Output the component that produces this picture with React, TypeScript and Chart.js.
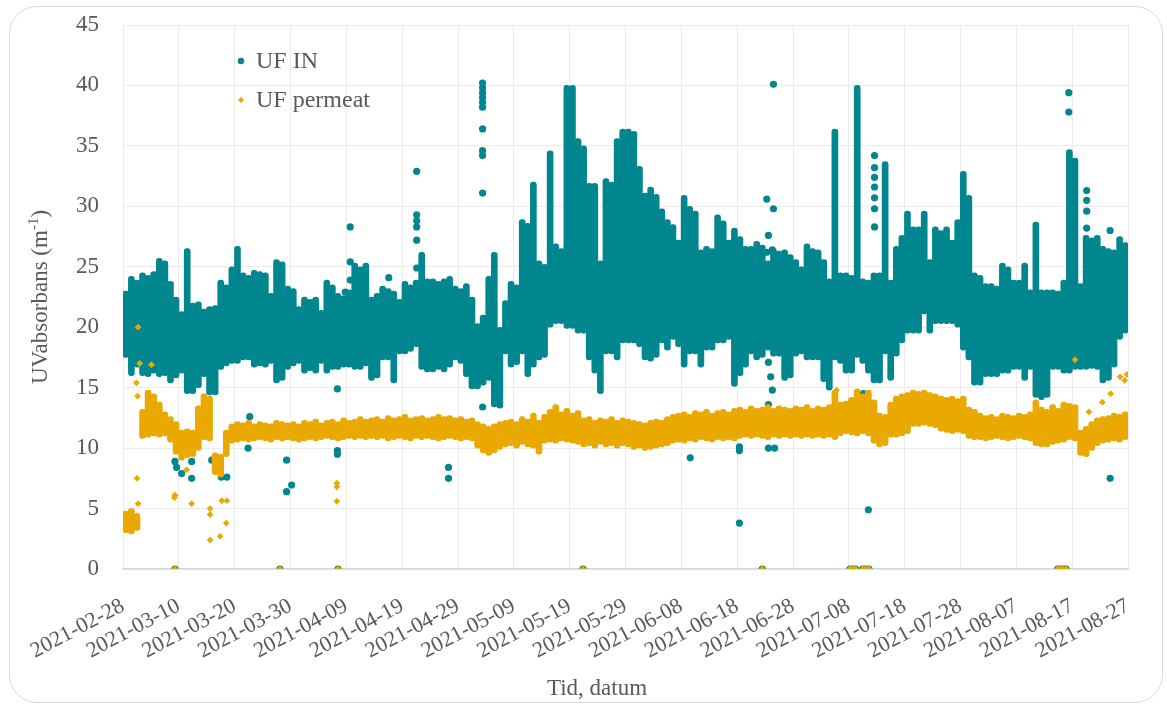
import { useEffect, useRef } from "react";
import { Chart, registerables } from "chart.js";

Chart.register(...registerables);

// x axis: days counted from 2021-02-28, one label every ten days
const dateTicks = [
  "2021-02-28", "2021-03-10", "2021-03-20", "2021-03-30", "2021-04-09",
  "2021-04-19", "2021-04-29", "2021-05-09", "2021-05-19", "2021-05-29",
  "2021-06-08", "2021-06-18", "2021-06-28", "2021-07-08", "2021-07-18",
  "2021-07-28", "2021-08-07", "2021-08-17", "2021-08-27",
];

// UF IN: daily highest and lowest UV absorbance (m-1), day 0 = 2021-02-28
const ufInHigh = [
  23.0, 24.2, 23.9, 24.5, 24.3, 24.6, 25.7, 25.5, 23.8, 22.5,
  21.3, 26.5, 22.0, 22.1, 21.5, 21.7, 21.8, 23.9, 23.5, 25.0,
  26.7, 24.5, 24.3, 24.7, 24.6, 24.5, 22.8, 25.6, 25.4, 23.4,
  23.2, 21.7, 22.5, 22.3, 22.5, 21.4, 23.9, 23.5, 22.8, 22.6,
  23.1, 25.3, 25.0, 25.3, 22.5, 22.8, 23.4, 23.2, 23.0, 22.3,
  23.8, 23.5, 23.9, 26.2, 24.0, 24.0, 23.8, 24.0, 24.2, 23.4,
  23.2, 23.6, 22.5, 20.3, 21.0, 24.2, 26.2, 20.0, 22.2, 23.8,
  23.5, 28.9, 28.6, 32.0, 25.5, 25.2, 34.6, 26.9, 26.5, 40.0,
  40.0, 35.6, 35.0, 31.9, 31.9, 25.5, 32.3, 32.0, 35.6, 36.4,
  36.4, 36.2, 33.3, 31.1, 31.6, 31.0, 29.8, 28.9, 28.5, 27.2,
  30.9, 30.0, 29.6, 26.4, 26.7, 26.5, 29.3, 28.8, 27.2, 28.2,
  27.5, 26.7, 26.7, 27.1, 26.8, 25.5, 26.5, 26.3, 26.4, 26.0,
  25.6, 25.0, 26.9, 26.5, 26.4, 25.6, 24.0, 36.4, 24.5, 24.5,
  24.3, 40.0, 24.0, 23.9, 24.5, 24.5, 33.7, 23.9, 26.7, 27.6,
  29.6, 28.3, 28.3, 29.6, 25.6, 28.3, 28.0, 28.3, 27.2, 28.9,
  32.9, 30.9, 24.5, 24.3, 23.6, 23.6, 23.4, 25.3, 25.0, 23.9,
  23.9, 25.3, 23.1, 28.7, 23.1, 23.1, 23.1, 23.0, 23.9, 34.7,
  34.0, 23.6, 27.6, 27.4, 27.6, 26.7, 26.5, 26.4, 27.5, 27.0,
];
const ufInLow = [
  17.5, 16.0, 16.7, 16.0, 15.9, 16.2, 15.9, 16.0, 15.4, 15.8,
  16.2, 14.5, 14.5, 15.0, 15.9, 14.4, 14.4, 16.5, 16.8, 17.0,
  17.0, 17.3, 17.3, 16.7, 16.8, 16.7, 17.0, 15.4, 15.6, 16.5,
  16.8, 17.0, 16.2, 16.4, 16.2, 17.0, 16.2, 16.5, 16.5, 16.7,
  16.7, 16.5, 16.5, 16.8, 15.6, 15.8, 17.3, 17.3, 15.4, 17.8,
  17.8, 18.0, 18.4, 16.5, 16.3, 16.3, 16.5, 16.3, 16.7, 17.3,
  17.0, 15.9, 14.9, 14.9, 15.2, 15.6, 13.4, 13.3, 17.8, 16.7,
  16.9, 17.8, 15.9, 16.7, 17.3, 17.5, 20.0, 20.3, 20.3, 19.9,
  19.9, 19.5, 19.5, 17.3, 16.2, 14.5, 17.8, 17.8, 17.3, 18.7,
  18.7, 18.7, 18.4, 17.3, 17.2, 17.5, 18.7, 18.1, 19.0, 18.4,
  16.7, 17.8, 17.8, 16.7, 18.1, 18.1, 18.7, 18.7, 19.0, 15.1,
  16.0, 16.7, 17.8, 17.3, 17.5, 18.1, 17.6, 17.6, 15.6, 15.8,
  17.6, 17.8, 17.3, 17.3, 17.3, 15.5, 14.8, 17.3, 17.0, 16.2,
  16.2, 17.5, 17.0, 16.2, 15.4, 15.4, 17.8, 15.6, 17.6, 18.7,
  19.5, 19.5, 19.5, 21.1, 19.5, 20.3, 20.3, 20.3, 20.3, 20.0,
  18.1, 17.3, 15.2, 15.2, 15.9, 15.9, 15.9, 16.2, 16.2, 16.5,
  16.5, 15.6, 16.5, 14.2, 14.0, 14.2, 16.5, 16.5, 16.2, 16.2,
  16.5, 16.5, 16.5, 16.6, 16.5, 15.4, 15.6, 16.7, 19.0, 19.5,
];

// UF permeat: daily highest and lowest UV absorbance (m-1)
const permHigh = [
  4.8, 5.0, 4.6, 13.2, 14.8, 14.5, 13.8, 13.0, 12.6, 12.2,
  11.5, 11.6, 11.5, 13.5, 14.5, 14.3, 9.6, 9.5, 11.5, 12.0,
  12.2, 12.1, 12.3, 12.0, 12.2, 12.1, 12.0, 12.3, 12.2, 12.1,
  12.2, 12.0, 12.3, 12.2, 12.4, 12.1, 12.3, 12.4, 12.2, 12.5,
  12.3, 12.4, 12.6, 12.4, 12.5, 12.6, 12.4, 12.7, 12.5, 12.6,
  12.8, 12.5, 12.6, 12.7, 12.5, 12.6, 12.8, 12.6, 12.7, 12.5,
  12.6, 12.4, 12.5, 12.2, 12.0, 11.8, 12.0, 12.2, 12.3, 12.4,
  12.2, 12.6, 12.4, 12.9, 12.3, 12.8, 13.2, 13.6, 13.0, 13.3,
  12.9, 13.1, 12.5, 12.6, 12.3, 12.5, 12.4, 12.6, 12.3, 12.5,
  12.4, 12.3, 12.2, 12.1, 12.3, 12.4, 12.3, 12.6, 12.8, 12.9,
  13.0, 12.8, 13.1, 13.0, 13.2, 12.9, 13.1, 13.2, 13.0, 13.3,
  13.4, 13.2, 13.5, 13.3, 13.4, 13.6, 13.3, 13.5, 13.4, 13.3,
  13.5, 13.4, 13.6, 13.3, 13.5, 13.4, 13.6, 14.8, 13.8, 13.9,
  14.2, 14.9, 14.5, 14.8, 14.0, 12.9, 12.8, 13.8, 14.3, 14.5,
  14.6, 14.8, 14.7, 14.8, 14.6, 14.5, 14.3, 14.2, 14.3, 14.1,
  14.3, 13.4, 13.2, 12.9, 12.7, 12.8, 12.6, 12.9, 12.8, 12.7,
  12.9, 12.8, 13.0, 14.0, 13.4, 13.2, 13.6, 13.3, 13.8, 13.7,
  13.6, 11.5, 11.8, 12.2, 12.5, 12.6, 12.7, 12.9, 12.8, 13.0,
];
const permLow = [
  3.0, 2.9, 3.2, 10.8, 10.9, 11.0, 10.9, 11.0, 10.5, 9.5,
  9.0, 9.2, 9.3, 9.8, 10.7, 10.6, 7.8, 7.6, 9.3, 10.4,
  10.5, 10.6, 10.5, 10.6, 10.7, 10.6, 10.5, 10.7, 10.6, 10.7,
  10.6, 10.5, 10.6, 10.7, 10.6, 10.7, 10.8, 10.7, 10.6, 10.7,
  10.8, 10.7, 10.8, 10.7, 10.8, 10.7, 10.8, 10.6, 10.7, 10.8,
  10.7, 10.6, 10.8, 10.7, 10.8, 10.7, 10.6, 10.7, 10.8, 10.7,
  10.6, 10.7, 10.6, 10.0, 9.6, 9.4, 9.6, 9.9, 10.1, 10.2,
  10.0, 10.3, 10.1, 10.0, 9.5, 10.4, 10.5, 10.4, 10.6, 10.5,
  10.4, 10.3, 10.1, 10.2, 10.0, 10.3, 10.1, 10.2, 10.0, 10.2,
  10.1, 9.9, 10.0, 9.8, 9.9, 10.0, 10.1, 10.2, 10.4, 10.5,
  10.4, 10.6, 10.5, 10.7, 10.6, 10.5, 10.7, 10.6, 10.7, 10.6,
  10.8, 10.9, 10.8, 10.9, 10.8, 10.7, 10.9, 10.8, 10.9, 10.8,
  10.9, 10.8, 10.9, 10.8, 10.9, 10.8, 10.9, 10.7, 11.0, 11.2,
  11.1, 11.0, 11.2, 11.0, 10.4, 10.1, 10.2, 10.9, 10.9, 11.0,
  11.2, 11.8, 11.8, 11.9, 11.8, 11.7, 11.4, 11.3, 11.2, 11.3,
  11.2, 10.8, 10.7, 10.7, 10.6, 10.7, 10.8, 10.7, 10.6, 10.7,
  10.8, 10.7, 10.6, 10.2, 10.1, 10.1, 10.3, 10.4, 10.5, 10.7,
  10.6, 9.4, 9.3, 9.8, 10.2, 10.4, 10.5, 10.6, 10.5, 10.7,
];

// single UF IN readings away from the daily band: [day, value]
const ufInSingles: [number, number][] = [
  [9.3, 8.9], [9.6, 8.4], [10.5, 7.9], [12.3, 7.5], [12.3, 8.9], [15.9, 9.0],
  [17.6, 7.6], [18.6, 7.6], [22.7, 12.6], [22.4, 10.0], [29.3, 9.0], [29.3, 6.4],
  [30.2, 6.95], [38.4, 14.9], [38.4, 9.5], [38.4, 9.8], [40.7, 28.3], [40.7, 25.4],
  [40.7, 23.9], [39.8, 22.9], [47.6, 24.1], [52.6, 32.9], [52.6, 29.3], [52.6, 28.8],
  [52.6, 28.3], [52.6, 27.2], [52.6, 24.9], [58.3, 8.4], [58.3, 7.5],
  [64.4, 40.2], [64.4, 39.8], [64.4, 39.4], [64.4, 39.0], [64.4, 38.6], [64.4, 38.2],
  [64.4, 36.4], [64.4, 34.6], [64.4, 34.2], [64.4, 31.1], [64.4, 13.4], [64.4, 10.2],
  [101.6, 9.2], [110.4, 10.1], [110.4, 9.8], [110.4, 3.8],
  [116.5, 40.1], [115.3, 30.6], [116.5, 29.8], [115.6, 27.6], [116.3, 26.4], [115.3, 26.2],
  [115.6, 17.1], [116.0, 15.9], [116.3, 14.8], [115.6, 13.6], [115.6, 10.0], [116.7, 10.0],
  [132.6, 14.5], [133.5, 4.9], [134.1, 13.7],
  [134.6, 34.2], [134.6, 33.2], [134.6, 32.4], [134.6, 31.6], [134.6, 30.7], [134.6, 29.8], [134.6, 28.3],
  [169.4, 39.4], [169.4, 37.8], [172.6, 31.3], [172.6, 30.5], [172.6, 29.6], [172.6, 28.2],
  [176.8, 28.0], [176.8, 7.5],
];

// single UF permeat readings away from the daily band: [day, value]
const permSingles: [number, number][] = [
  [2.7, 20.0], [3.0, 17.0], [5.1, 16.9], [2.4, 15.4], [2.6, 14.3], [2.5, 7.5], [2.7, 5.4],
  [9.3, 6.1], [9.2, 5.9], [12.3, 5.4], [15.6, 5.0], [15.6, 4.5], [15.6, 2.4], [17.4, 2.7],
  [17.7, 5.65], [18.6, 5.65], [18.5, 3.8], [11.4, 8.2], [38.3, 7.1], [38.3, 6.8], [38.3, 5.6],
  [127.8, 14.8], [170.5, 17.3], [178.6, 15.9], [179.4, 15.6], [179.8, 16.1], [176.9, 14.5],
  [175.4, 13.8], [173.0, 13.0],
];

// days on which both meters logged a zero reading
const zeroDays = [9.3, 28.1, 38.5, 82.4, 114.5, 130.2, 130.7, 131.2, 132.5, 133.0, 133.6, 167.4, 167.9, 168.4, 168.9];
const zeroValue = 0;

const TEAL = "#00868F";
const GOLD = "#E9A900";
const GRID = "#ebebeb";
const TEXT = "#595959";
const FONT = "'Liberation Serif', 'Times New Roman', serif";

const annotate = {
  id: "annotate",
  afterDraw(chart: any) {
    const { ctx, chartArea } = chart;
    ctx.save();
    ctx.fillStyle = TEXT;
    ctx.textBaseline = "middle";
    ctx.textAlign = "left";
    ctx.font = `24px ${FONT}`;

    // legend
    const lx = chartArea.left + 118;
    const ly1 = chartArea.top + 36;
    const ly2 = chartArea.top + 75;
    ctx.fillStyle = TEAL;
    ctx.beginPath();
    ctx.arc(lx, ly1, 3.2, 0, Math.PI * 2);
    ctx.fill();
    ctx.fillStyle = GOLD;
    ctx.beginPath();
    ctx.moveTo(lx, ly2 - 3);
    ctx.lineTo(lx + 3, ly2);
    ctx.lineTo(lx, ly2 + 3);
    ctx.lineTo(lx - 3, ly2);
    ctx.closePath();
    ctx.fill();
    ctx.fillStyle = TEXT;
    ctx.fillText("UF IN", lx + 15, ly1 + 1);
    ctx.fillText("UF permeat", lx + 15, ly2 + 1);

    // x axis title
    ctx.textAlign = "center";
    ctx.font = `23px ${FONT}`;
    ctx.fillText("Tid, datum", chartArea.left + 474, 689);

    // y axis title with superscript unit
    const main = "UVabsorbans (m";
    const sup = "-1";
    const tail = ")";
    ctx.font = `23px ${FONT}`;
    const wMain = ctx.measureText(main).width;
    const wTail = ctx.measureText(tail).width;
    ctx.font = `15px ${FONT}`;
    const wSup = ctx.measureText(sup).width;
    const total = wMain + wSup + wTail;
    ctx.translate(41, (chartArea.top + chartArea.bottom) / 2);
    ctx.rotate(-Math.PI / 2);
    ctx.textAlign = "left";
    let x = -total / 2;
    ctx.font = `23px ${FONT}`;
    ctx.fillText(main, x, 0);
    x += wMain;
    ctx.font = `15px ${FONT}`;
    ctx.fillText(sup, x, -7);
    x += wSup;
    ctx.font = `23px ${FONT}`;
    ctx.fillText(tail, x, 0);
    ctx.restore();
  },
};

export default function App() {
  const canvasRef = useRef<HTMLCanvasElement | null>(null);

  useEffect(() => {
    const canvas = canvasRef.current;
    if (!canvas) return;

    const inBand = ufInHigh.map((h, i) => ({ x: i + 0.5, y: [ufInLow[i], h] }));
    const permBand = permHigh.map((h, i) => ({ x: i + 0.5, y: [permLow[i], h] }));
    const inPoints = [
      ...ufInSingles.map(([d, v]) => ({ x: d, y: v })),
      ...zeroDays.map((d) => ({ x: d, y: zeroValue })),
    ];
    const permPoints = [
      ...permSingles.map(([d, v]) => ({ x: d, y: v })),
      ...zeroDays.map((d) => ({ x: d, y: zeroValue })),
    ];

    const bandStyle = {
      grouped: false,
      barThickness: 6,
      borderRadius: 3,
      borderSkipped: false,
      borderWidth: 0,
    };

    const chart = new Chart(canvas, {
      type: "scatter",
      data: {
        datasets: [
          { type: "bar", label: "UF IN", data: inBand as any, backgroundColor: TEAL, order: 3, ...bandStyle } as any,
          { type: "scatter", label: "UF IN", data: inPoints, backgroundColor: TEAL, borderWidth: 0, pointRadius: 3.6, order: 2 } as any,
          { type: "bar", label: "UF permeat", data: permBand as any, backgroundColor: GOLD, order: 1, ...bandStyle } as any,
          { type: "scatter", label: "UF permeat", data: permPoints, backgroundColor: GOLD, borderWidth: 0, pointStyle: "rectRot", pointRadius: 3.4, order: 0 } as any,
        ],
      },
      options: {
        animation: false,
        responsive: false,
        devicePixelRatio: 1,
        layout: { padding: { left: 0, top: 25, right: 39, bottom: 0 } },
        plugins: { legend: { display: false }, tooltip: { enabled: false } },
        scales: {
          x: {
            type: "linear",
            min: 0,
            max: 180,
            offset: false,
            grid: { color: GRID, lineWidth: 1, drawTicks: false, offset: false },
            border: { color: "#d6d6d6", width: 1.5 },
            ticks: {
              stepSize: 10,
              autoSkip: false,
              minRotation: 28,
              maxRotation: 28,
              padding: 24,
              color: TEXT,
              font: { family: FONT, size: 22 },
              callback: (v: any) => dateTicks[Math.round(Number(v) / 10)] ?? "",
            },
            afterFit: (s: any) => {
              s.height = 137;
            },
          },
          y: {
            type: "linear",
            min: 0,
            max: 45,
            grid: { color: GRID, lineWidth: 1, drawTicks: false },
            border: { display: false },
            ticks: {
              stepSize: 5,
              padding: 24,
              color: TEXT,
              font: { family: FONT, size: 23 },
            },
            afterFit: (s: any) => {
              s.width = 123;
              s.paddingTop = 0;
              s.paddingBottom = 0;
            },
          },
        },
      },
      plugins: [annotate],
    });

    return () => chart.destroy();
  }, []);

  return (
    <div style={{ position: "fixed", left: 0, top: 0, width: 1167, height: 706, background: "#fff" }}>
      <canvas ref={canvasRef} width={1167} height={706} style={{ position: "absolute", left: 0, top: 0, width: 1167, height: 706 }} />
      <div
        style={{
          position: "absolute",
          left: 9,
          top: 6,
          width: 1152,
          height: 695,
          border: "1px solid #d9d9d9",
          borderRadius: 28,
          pointerEvents: "none",
        }}
      />
    </div>
  );
}
